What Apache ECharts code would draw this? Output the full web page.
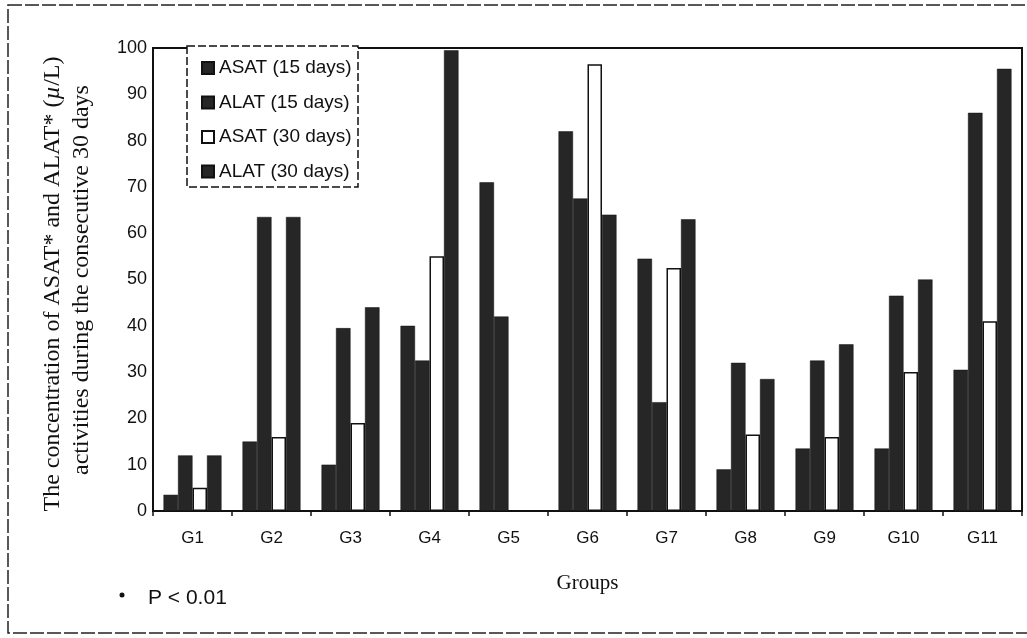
<!DOCTYPE html>
<html>
<head>
<meta charset="utf-8">
<script src="https://cdn.jsdelivr.net/npm/echarts@6/dist/echarts.min.js"></script>
<style>html,body{margin:0;padding:0;background:#fff;}#c{width:1027px;height:638px;}</style>
</head>
<body>
<div id="c"></div>
<script>
const categories = ['G1','G2','G3','G4','G5','G6','G7','G8','G9','G10','G11'];
const asat15 = [3.5, 15, 10, 40, 71, 82, 54.5, 9, 13.5, 13.5, 30.5];
const alat15 = [12, 63.5, 39.5, 32.5, 42, 67.5, 23.5, 32, 32.5, 46.5, 86];
const asat30 = [5, 16, 19, 55, 0, 96.5, 52.5, 16.5, 16, 30, 41];
const alat30 = [12, 63.5, 44, 99.5, 0, 64, 63, 28.5, 36, 50, 95.5];
const seriesNames = ['ASAT (15 days)', 'ALAT (15 days)', 'ASAT (30 days)', 'ALAT (30 days)'];

const dark = '#262626';
const chart = echarts.init(document.getElementById('c'));
function darkSeries(name, data) {
  return { name: name, type: 'bar', data: data, barGap: '0%', barCategoryGap: '26.6%',
    itemStyle: { color: dark, borderColor: '#111', borderWidth: 0.5 } };
}
chart.setOption({
  animation: false,
  backgroundColor: '#fff',
  grid: { left: 153, right: 5, top: 48, bottom: 127, show: true, borderColor: '#111', borderWidth: 2 },
  legend: {
    orient: 'vertical', left: 196, top: 53, itemWidth: 12, itemHeight: 12, itemGap: 14.5,
    icon: 'rect',
    data: seriesNames,
    textStyle: { fontFamily: 'Liberation Sans, Arial', fontSize: 19, color: '#111', lineHeight: 20 }
  },
  xAxis: {
    type: 'category', data: categories,
    axisLine: { lineStyle: { color: '#111', width: 2 } },
    axisTick: { show: true, length: 5, lineStyle: { color: '#111', width: 1.5 } },
    axisLabel: { fontFamily: 'Liberation Sans, Arial', fontSize: 17, color: '#111', margin: 19 },
    name: 'Groups', nameLocation: 'middle', nameGap: 62,
    nameTextStyle: { fontFamily: 'Liberation Serif, Times New Roman', fontSize: 21, color: '#111' }
  },
  yAxis: {
    type: 'value', min: 0, max: 100, interval: 10,
    splitLine: { show: false },
    axisLine: { show: true, lineStyle: { color: '#111', width: 2 } },
    axisTick: { show: false },
    axisLabel: { fontFamily: 'Liberation Sans, Arial', fontSize: 18, color: '#111', margin: 6 }
  },
  graphic: [
    { type: 'rect', shape: { x: 8, y: 5, width: 1030, height: 628 }, style: { fill: 'none', stroke: '#222', lineWidth: 1.5, lineDash: [14, 3] }, z: 1 },
    { type: 'rect', shape: { x: 187, y: 46, width: 171, height: 141 }, style: { fill: '#fff', stroke: '#111', lineWidth: 1.5, lineDash: [8, 3] }, z: 2 },
    { type: 'text', x: 53, y: 284, rotation: Math.PI / 2, z: 5,
      style: { text: 'The concentration of ASAT* and ALAT* ({i|µ}/L)', align: 'center', verticalAlign: 'middle',
        font: '24px "Liberation Serif", "Times New Roman"', fill: '#111',
        rich: { i: { fontStyle: 'italic', fontFamily: 'Liberation Serif', fontSize: 24, fill: '#111' } } } },
    { type: 'text', x: 82, y: 280, rotation: Math.PI / 2, z: 5,
      style: { text: 'activities during the consecutive 30 days', align: 'center', verticalAlign: 'middle',
        font: '24px "Liberation Serif", "Times New Roman"', fill: '#111' } },
    { type: 'circle', shape: { cx: 122, cy: 595, r: 2.5 }, style: { fill: '#111' }, z: 5 },
    { type: 'text', x: 148, y: 598, z: 5,
      style: { text: 'P < 0.01', align: 'left', verticalAlign: 'middle', font: '21px "Liberation Sans", Arial', fill: '#111' } }
  ],
  series: [
    darkSeries(seriesNames[0], asat15),
    darkSeries(seriesNames[1], alat15),
    { name: seriesNames[2], type: 'bar', data: asat30, barGap: '0%', barCategoryGap: '26.6%',
      itemStyle: { color: '#fff', borderColor: '#111', borderWidth: 1.5 } },
    darkSeries(seriesNames[3], alat30)
  ]
});
</script>
</body>
</html>
